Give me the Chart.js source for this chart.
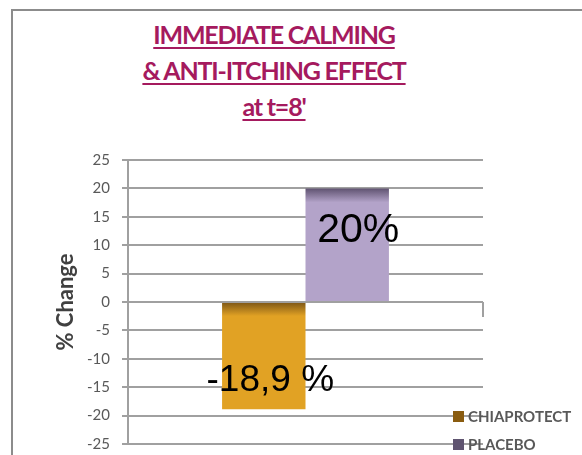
<!DOCTYPE html>
<html>
<head>
<meta charset="utf-8">
<script src="https://cdn.jsdelivr.net/npm/chart.js@4.4.1/dist/chart.umd.min.js"></script>
<style>
  html, body { margin: 0; padding: 0; background: #fff; }
  #wrap { position: relative; width: 582px; height: 455px; overflow: hidden; }
  #frame { position: absolute; left: 11px; top: 9px; width: 620px; height: 520px; border: 2px solid #8c8c8c; box-sizing: border-box; }
  #title { position: absolute; left: 74px; width: 400px; top: 16px; text-align: center;
           font-family: Lato, sans-serif; font-weight: 700; font-size: 25px; line-height: 36px;
           letter-spacing: -1.2px; color: #a51a5e; }
  #title span { text-decoration: underline; text-decoration-thickness: 2px; text-underline-offset: 3px; }
  #chart { position: absolute; left: 0; top: 0; }
  #legend { position: absolute; left: 453px; top: 402px; font-family: Lato, sans-serif; font-weight: 700;
            font-size: 15px; color: #595959; }
  #legend div { display: flex; align-items: center; height: 28px; }
  #legend i { display: inline-block; width: 11px; height: 11px; margin-right: 4px; }
</style>
</head>
<body>
<div id="wrap">
  <div id="frame"></div>
  <div id="title"></div>
  <canvas id="chart" width="582" height="465"></canvas>
  <div id="legend"></div>
</div>
<script>
// ---- datos ----
const titleLines = ['IMMEDIATE CALMING', '& ANTI-ITCHING EFFECT', "at t=8'"];
const categories = [''];
const seriesNames = ['CHIAPROTECT', 'PLACEBO'];
const chiaValues = [-18.9];
const placeboValues = [20];
const barLabels = ['-18,9 %', '20%'];
const yTicks = [-25, -20, -15, -10, -5, 0, 5, 10, 15, 20, 25];

const COLORS = {
  chia:    { main: '#e1a224', dark: '#7b5516', legend: '#8a5c10' },
  placebo: { main: '#b3a3c9', dark: '#5f5270', legend: '#5f5470' },
  grid: '#a0a0a0',
  tick: '#595959',
};

document.getElementById('title').innerHTML =
  titleLines.map(t => `<span>${t}</span>`).join('<br>');

/* degradado: banda oscura arriba de cada barra */
function barFill(col) {
  return (ctx) => {
    const chart = ctx.chart;
    if (!chart.chartArea || ctx.raw == null) return col.main;
    const y = chart.scales.y;
    const top = Math.min(y.getPixelForValue(0), y.getPixelForValue(ctx.raw));
    const g = chart.ctx.createLinearGradient(0, top, 0, top + 14);
    g.addColorStop(0, col.dark);
    g.addColorStop(1, col.main);
    return g;
  };
}

/* etiquetas grandes dentro de las barras */
const barText = {
  id: 'barText',
  afterDatasetsDraw(chart) {
    const { ctx } = chart;
    ctx.save();
    ctx.fillStyle = '#000';
    ctx.textAlign = 'center';
    ctx.textBaseline = 'alphabetic';
    chart.data.datasets.forEach((ds, i) => {
      const el = chart.getDatasetMeta(i).data[0];
      if (!el) return;
      const neg = ds.data[0] < 0;
      ctx.font = (neg ? 37 : 41) + 'px "Liberation Sans", Arial, sans-serif';
      const x = el.x + (neg ? 6.5 : 11);
      const y = neg ? el.y - 18 : el.y + 54;
      ctx.fillText(barLabels[i], x, y);
    });
    ctx.restore();
  }
};

new Chart(document.getElementById('chart'), {
  type: 'bar',
  data: {
    labels: categories,
    datasets: [
      { label: seriesNames[0], data: chiaValues, backgroundColor: barFill(COLORS.chia) },
      { label: seriesNames[1], data: placeboValues, backgroundColor: barFill(COLORS.placebo) },
    ]
  },
  options: {
    responsive: false,
    animation: false,
    layout: { padding: { left: 0, right: 99, top: 160, bottom: 2 } },
    datasets: { bar: { categoryPercentage: 0.47, barPercentage: 1 } },
    plugins: { legend: { display: false }, tooltip: { enabled: false }, title: { display: false } },
    scales: {
      x: {
        position: { y: 0 },
        afterFit: (s) => { s.height = 0; },
        ticks: { display: false },
        border: { display: false },
        grid: { drawOnChartArea: false, drawTicks: true, tickLength: 15, color: COLORS.grid, lineWidth: 2 },
      },
      y: {
        min: yTicks[0],
        max: yTicks[yTicks.length - 1],
        afterBuildTicks: (s) => { s.ticks = yTicks.map(v => ({ value: v })); },
        afterFit: (s) => { s.width = 128; },
        ticks: { color: COLORS.tick, padding: 12, font: { family: 'Lato', size: 15 } },
        grid: { color: COLORS.grid, lineWidth: 2, tickLength: 6 },
        border: { color: COLORS.grid, width: 2 },
        title: {
          display: true, text: '% Change', color: '#404040',
          font: { family: 'Lato', size: 22, weight: '700' },
          padding: { top: 53, bottom: 0 }
        }
      }
    }
  },
  plugins: [barText]
});

document.getElementById('legend').innerHTML = seriesNames.map((n, i) => {
  const c = i === 0 ? COLORS.chia.legend : COLORS.placebo.legend;
  return `<div><i style="background:${c}"></i>${n}</div>`;
}).join('');
</script>
</body>
</html>
